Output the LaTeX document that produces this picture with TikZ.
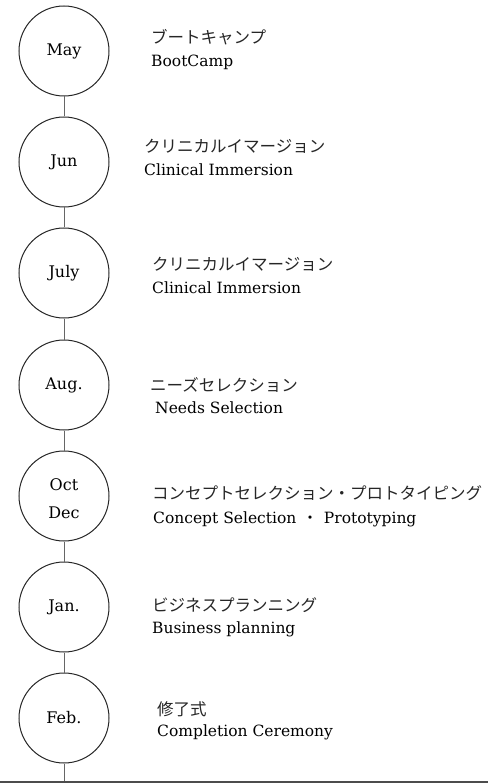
\documentclass[tikz,border=0pt]{standalone}
\usepackage{fontspec}
\setmainfont{DejaVu Serif}
\newfontfamily\jpfont{Noto Sans CJK JP}
\tikzset{
  month/.style={circle, draw=black!85, line width=1pt, minimum size=90pt, inner sep=0pt, align=center,
    font=\fontsize{16}{28}\selectfont, text=black},
  link/.style={draw=black!60, line width=0.9pt},
  jp/.style={anchor=base west, inner sep=0pt, font=\jpfont\fontsize{16.5}{18}\selectfont, text=black!85},
  en/.style={anchor=base west, inner sep=0pt, font=\fontsize{15.5}{18}\selectfont, text=black},
}
\begin{document}
\begin{tikzpicture}[x=1pt,y=-1pt]
\useasboundingbox (0,0) rectangle (490,783);
\node[month] (m1) at (64,51) {May};
\node[month] (m2) at (64,162) {Jun};
\node[month] (m3) at (64,273) {July};
\node[month] (m4) at (64,385) {Aug.};
\node[month] (m5) at (64,496) {\raisebox{-7pt}[0pt][0pt]{\begin{tabular}[c]{@{}c@{}}Oct\\Dec\end{tabular}}};
\node[month] (m6) at (64,607) {Jan.};
\node[month] (m7) at (64,718) {Feb.};
\coordinate (end) at (64,782);
\draw[link] (m1.south) -- (m2.north);
\draw[link] (m2.south) -- (m3.north);
\draw[link] (m3.south) -- (m4.north);
\draw[link] (m4.south) -- (m5.north);
\draw[link] (m5.south) -- (m6.north);
\draw[link] (m6.south) -- (m7.north);
\draw[link] (m7.south) -- (end);
\coordinate (bl) at (0,782);
\coordinate (br) at (488,782);
\draw[draw=black!70, line width=2pt] (bl) -- (br);
\node[jp] (j1) at (151,44) {ブートキャンプ};
\node[en] (e1) at (151,67) {BootCamp};
\node[jp] (j2) at (144,153) {クリニカルイマージョン};
\node[en] (e2) at (144,176) {Clinical Immersion};
\node[jp] (j3) at (152,270) {クリニカルイマージョン};
\node[en] (e3) at (152,293) {Clinical Immersion};
\node[jp] (j4) at (150,391) {ニーズセレクション};
\node[en] (e4) at (155,413) {Needs Selection};
\node[jp] (j5) at (152,499) {コンセプトセレクション・プロトタイピング};
\node[en] (e5) at (153,523) {Concept Selection\hspace{6pt}{\jpfont ・}\hspace{6pt}Prototyping};
\node[jp] (j6) at (152,611) {ビジネスプランニング};
\node[en] (e6) at (152,633) {Business planning};
\node[jp] (j7) at (157,715) {修了式};
\node[en] (e7) at (157,736) {Completion Ceremony};
\end{tikzpicture}
\end{document}
